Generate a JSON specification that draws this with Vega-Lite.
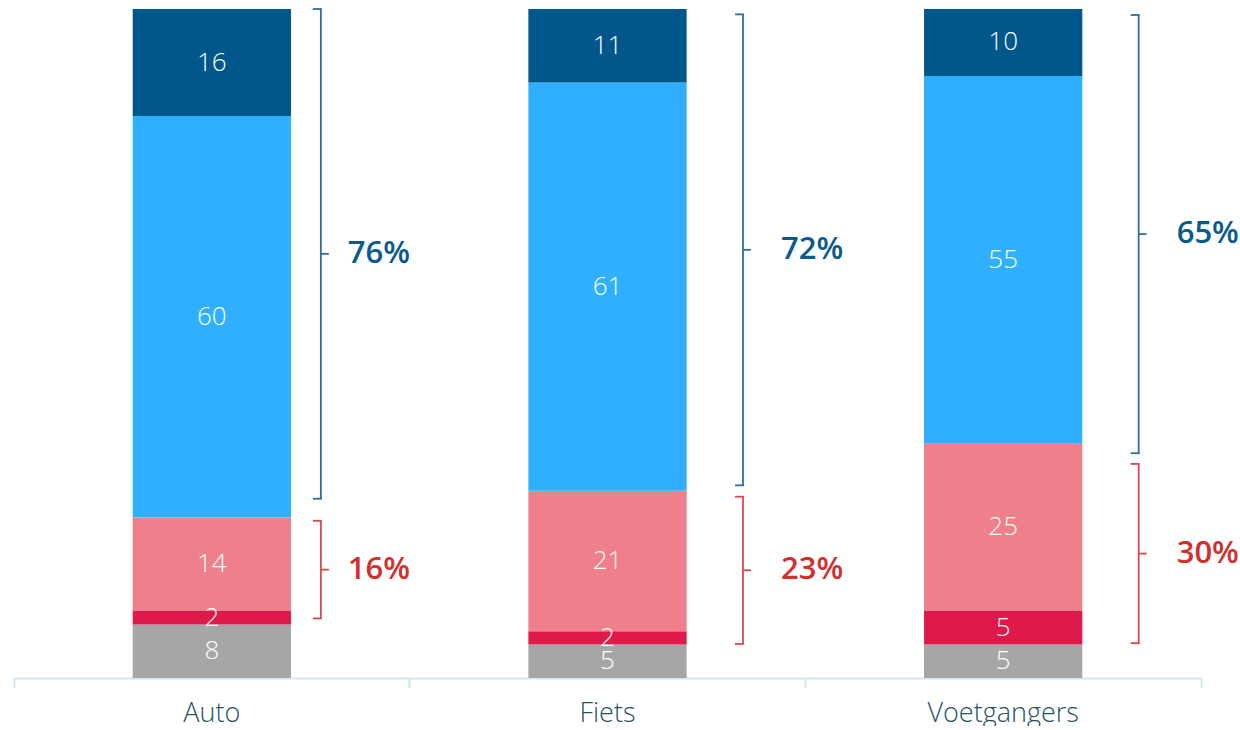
{
  "$schema": "https://vega.github.io/schema/vega-lite/v6.json",
  "width": 1187,
  "height": 669,
  "padding": {"left": 13, "top": 8, "right": 5, "bottom": 0},
  "autosize": {"type": "pad"},
  "config": {"view": {"stroke": null}, "font": "Open Sans"},
  "datasets": {
    "bars": [
      {"cat": "Auto", "seg": "onbekend", "o": 1, "value": 8},
      {"cat": "Auto", "seg": "zeer negatief", "o": 2, "value": 2},
      {"cat": "Auto", "seg": "negatief", "o": 3, "value": 14},
      {"cat": "Auto", "seg": "positief", "o": 4, "value": 60},
      {"cat": "Auto", "seg": "zeer positief", "o": 5, "value": 16},
      {"cat": "Fiets", "seg": "onbekend", "o": 1, "value": 5},
      {"cat": "Fiets", "seg": "zeer negatief", "o": 2, "value": 2},
      {"cat": "Fiets", "seg": "negatief", "o": 3, "value": 21},
      {"cat": "Fiets", "seg": "positief", "o": 4, "value": 61},
      {"cat": "Fiets", "seg": "zeer positief", "o": 5, "value": 11},
      {"cat": "Voetgangers", "seg": "onbekend", "o": 1, "value": 5},
      {"cat": "Voetgangers", "seg": "zeer negatief", "o": 2, "value": 5},
      {"cat": "Voetgangers", "seg": "negatief", "o": 3, "value": 25},
      {"cat": "Voetgangers", "seg": "positief", "o": 4, "value": 55},
      {"cat": "Voetgangers", "seg": "zeer positief", "o": 5, "value": 10}
    ],
    "braces": [
      {"cat": "Auto", "grp": "pos", "lo": 26.8, "hi": 100, "pct": "76%"},
      {"cat": "Auto", "grp": "neg", "lo": 8.9, "hi": 23.5, "pct": "16%"},
      {"cat": "Fiets", "grp": "pos", "lo": 28.8, "hi": 99.2, "pct": "72%"},
      {"cat": "Fiets", "grp": "neg", "lo": 5.1, "hi": 27.1, "pct": "23%"},
      {"cat": "Voetgangers", "grp": "pos", "lo": 33.6, "hi": 99.1, "pct": "65%"},
      {"cat": "Voetgangers", "grp": "neg", "lo": 5.2, "hi": 32.0, "pct": "30%"}
    ]
  },
  "resolve": {"axis": {"x": "independent"}},
  "layer": [
    {
      "data": {"name": "bars"},
      "transform": [
        {"stack": "value", "groupby": ["cat"], "sort": [{"field": "o", "order": "ascending"}], "as": ["y0", "y1"]}
      ],
      "mark": {"type": "bar", "width": {"band": 0.4}},
      "encoding": {
        "x": {
          "field": "cat", "type": "nominal", "sort": ["Auto", "Fiets", "Voetgangers"],
          "scale": {"paddingInner": 0, "paddingOuter": 0},
          "axis": {
            "orient": "bottom", "title": null, "labelAngle": 0, "ticks": false, "domainColor": "#CFE9EF", "domainWidth": 2,
            "labelFont": "Open Sans", "labelFontWeight": 300, "labelFontSize": 27, "labelColor": "#27535F",
            "labelPadding": 22, "labelBaseline": "top"
          }
        },
        "y": {"field": "y0", "type": "quantitative", "scale": {"domain": [0, 100], "nice": false}, "axis": null},
        "y2": {"field": "y1"},
        "color": {
          "field": "seg", "type": "nominal",
          "scale": {
            "domain": ["onbekend", "zeer negatief", "negatief", "positief", "zeer positief"],
            "range": ["#A6A6A6", "#DF1A4A", "#EF7F8A", "#2FB0FF", "#00578C"]
          },
          "legend": null
        }
      }
    },
    {
      "data": {"name": "bars"},
      "transform": [
        {"stack": "value", "groupby": ["cat"], "sort": [{"field": "o", "order": "ascending"}], "as": ["y0", "y1"]},
        {"calculate": "(datum.y0 + datum.y1) / 2", "as": "ymid"}
      ],
      "mark": {"type": "text", "color": "white", "font": "Open Sans", "fontWeight": 300, "fontSize": 26, "baseline": "middle", "align": "center"},
      "encoding": {
        "x": {
          "field": "cat", "type": "nominal", "sort": ["Auto", "Fiets", "Voetgangers"],
          "axis": {"orient": "bottom", "title": null, "labels": false, "domain": false, "ticks": true, "bandPosition": 0, "tickColor": "#CFE9EF", "tickWidth": 2, "tickSize": 9, "grid": false}
        },
        "y": {"field": "ymid", "type": "quantitative"},
        "text": {"field": "value", "type": "quantitative"}
      }
    },
    {
      "data": {"name": "braces"},
      "transform": [{"filter": "datum.cat == 'Auto'"}],
      "mark": {"type": "rule", "xOffset": 109, "strokeWidth": 1.8},
      "encoding": {
        "x": {
          "field": "cat", "type": "nominal", "sort": ["Auto", "Fiets", "Voetgangers"],
          "axis": {"orient": "bottom", "title": null, "labels": false, "domain": false, "ticks": true, "bandPosition": 1, "tickColor": "#CFE9EF", "tickWidth": 2, "tickSize": 9, "grid": false}
        },
        "y": {"field": "lo", "type": "quantitative"},
        "y2": {"field": "hi"},
        "stroke": {"field": "grp", "type": "nominal", "scale": {"domain": ["pos", "neg"], "range": ["#2D6E9E", "#D9484F"]}, "legend": null}
      }
    },
    {
      "data": {"name": "braces"},
      "transform": [{"filter": "datum.cat == 'Auto'"}, {"fold": ["lo", "hi"], "as": ["end", "yv"]}],
      "mark": {"type": "rule", "xOffset": 101, "x2Offset": 110, "strokeWidth": 1.8},
      "encoding": {
        "x": {"field": "cat", "type": "nominal", "sort": ["Auto", "Fiets", "Voetgangers"], "axis": null},
        "x2": {"field": "cat"},
        "y": {"field": "yv", "type": "quantitative"},
        "stroke": {"field": "grp", "type": "nominal", "legend": null}
      }
    },
    {
      "data": {"name": "braces"},
      "transform": [{"filter": "datum.cat == 'Auto'"}, {"calculate": "(datum.lo + datum.hi) / 2", "as": "mid"}],
      "mark": {"type": "rule", "xOffset": 109, "x2Offset": 117, "strokeWidth": 1.8},
      "encoding": {
        "x": {"field": "cat", "type": "nominal", "sort": ["Auto", "Fiets", "Voetgangers"], "axis": null},
        "x2": {"field": "cat"},
        "y": {"field": "mid", "type": "quantitative"},
        "stroke": {"field": "grp", "type": "nominal", "legend": null}
      }
    },
    {
      "data": {"name": "braces"},
      "transform": [{"filter": "datum.cat == 'Auto'"}, {"calculate": "(datum.lo + datum.hi) / 2", "as": "mid"}],
      "mark": {"type": "text", "xOffset": 136, "align": "left", "baseline": "middle", "font": "Open Sans", "fontWeight": 600, "fontSize": 31},
      "encoding": {
        "x": {"field": "cat", "type": "nominal", "sort": ["Auto", "Fiets", "Voetgangers"], "axis": null},
        "y": {"field": "mid", "type": "quantitative"},
        "text": {"field": "pct"},
        "fill": {"field": "grp", "type": "nominal", "scale": {"domain": ["pos", "neg"], "range": ["#0B5A8E", "#D1302F"]}, "legend": null}
      }
    },
    {
      "data": {"name": "braces"},
      "transform": [{"filter": "datum.cat != 'Auto'"}],
      "mark": {"type": "rule", "xOffset": 135.5, "strokeWidth": 1.8},
      "encoding": {
        "x": {"field": "cat", "type": "nominal", "sort": ["Auto", "Fiets", "Voetgangers"], "axis": null},
        "y": {"field": "lo", "type": "quantitative"},
        "y2": {"field": "hi"},
        "stroke": {"field": "grp", "type": "nominal", "legend": null}
      }
    },
    {
      "data": {"name": "braces"},
      "transform": [{"filter": "datum.cat != 'Auto'"}, {"fold": ["lo", "hi"], "as": ["end", "yv"]}],
      "mark": {"type": "rule", "xOffset": 127.5, "x2Offset": 136.5, "strokeWidth": 1.8},
      "encoding": {
        "x": {"field": "cat", "type": "nominal", "sort": ["Auto", "Fiets", "Voetgangers"], "axis": null},
        "x2": {"field": "cat"},
        "y": {"field": "yv", "type": "quantitative"},
        "stroke": {"field": "grp", "type": "nominal", "legend": null}
      }
    },
    {
      "data": {"name": "braces"},
      "transform": [{"filter": "datum.cat != 'Auto'"}, {"calculate": "(datum.lo + datum.hi) / 2", "as": "mid"}],
      "mark": {"type": "rule", "xOffset": 135.5, "x2Offset": 143.5, "strokeWidth": 1.8},
      "encoding": {
        "x": {"field": "cat", "type": "nominal", "sort": ["Auto", "Fiets", "Voetgangers"], "axis": null},
        "x2": {"field": "cat"},
        "y": {"field": "mid", "type": "quantitative"},
        "stroke": {"field": "grp", "type": "nominal", "legend": null}
      }
    },
    {
      "data": {"name": "braces"},
      "transform": [{"filter": "datum.cat != 'Auto'"}, {"calculate": "(datum.lo + datum.hi) / 2", "as": "mid"}],
      "mark": {"type": "text", "xOffset": 173.5, "align": "left", "baseline": "middle", "font": "Open Sans", "fontWeight": 600, "fontSize": 31},
      "encoding": {
        "x": {"field": "cat", "type": "nominal", "sort": ["Auto", "Fiets", "Voetgangers"], "axis": null},
        "y": {"field": "mid", "type": "quantitative"},
        "text": {"field": "pct"},
        "fill": {"field": "grp", "type": "nominal", "legend": null}
      }
    }
  ]
}
